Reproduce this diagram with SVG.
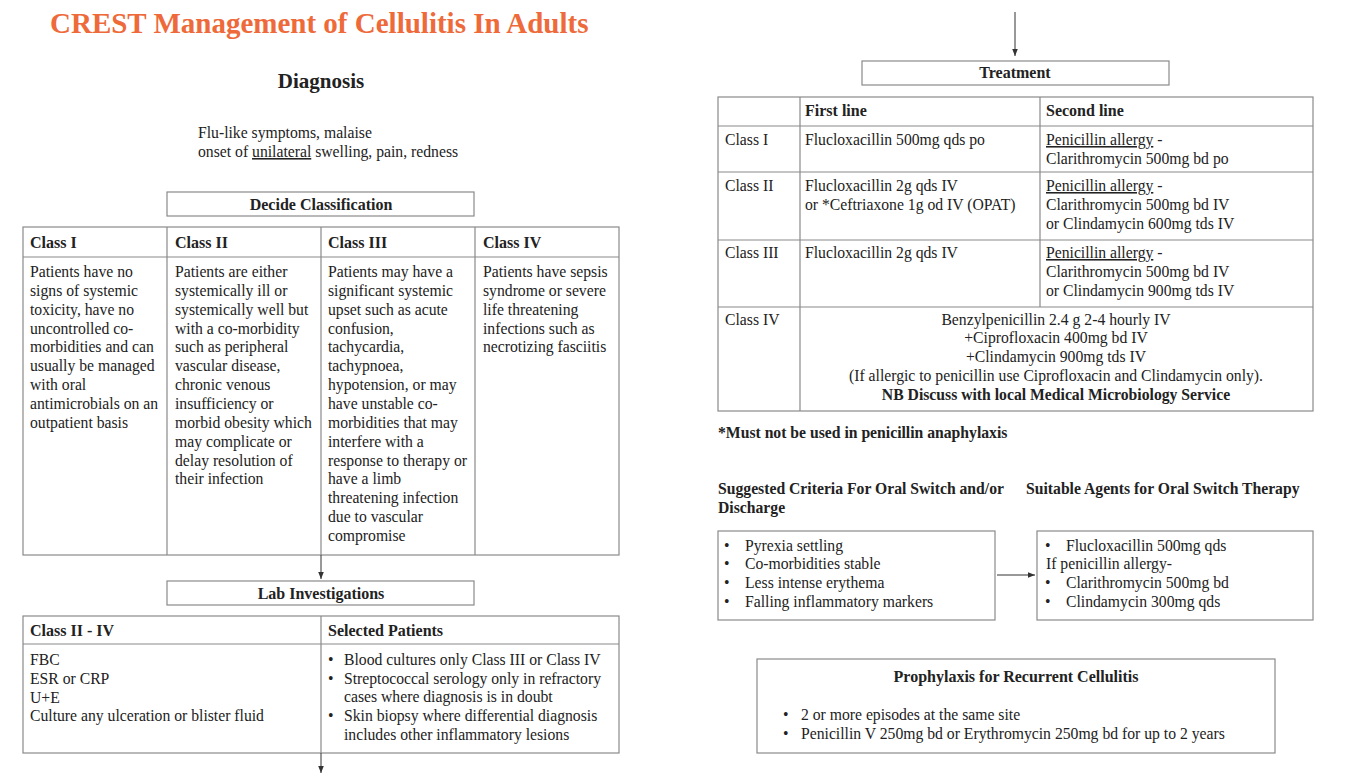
<svg xmlns="http://www.w3.org/2000/svg" width="1354" height="774" viewBox="0 0 1354 774">
<style>
text{font-family:"Liberation Serif","Times New Roman",serif;fill:#222;font-size:15.7px}
.b{font-weight:bold}
.h{font-weight:bold;font-size:16px}
.c{text-anchor:middle}
.u{text-decoration:underline}
.box{fill:#fff;stroke:#8a8a8a;stroke-width:1.2}
.ln{stroke:#8a8a8a;stroke-width:1.2;fill:none}
.con{stroke:#333;stroke-width:1;fill:none}
</style>
<defs>
<marker id="ah" viewBox="0 0 10 10" refX="10" refY="5" markerWidth="7" markerHeight="7" orient="auto" markerUnits="userSpaceOnUse">
<path d="M0,1 L10,5 L0,9 z" fill="#333"/>
</marker>
</defs>
<rect width="1354" height="774" fill="#fff"/>

<g id="title">
<text x="50" y="33" class="b" style="font-size:29px;fill:#ee6a3a">CREST Management of Cellulitis In Adults</text>
</g>

<g id="diagnosis">
<text x="321" y="88" class="b c" style="font-size:21px">Diagnosis</text>
<text x="198" y="138">Flu-like symptoms, malaise</text>
<text x="198" y="157">onset of <tspan class="u">unilateral</tspan> swelling, pain, redness</text>
</g>

<g id="decide">
<rect class="box" x="167" y="192" width="307" height="24"/>
<text x="321" y="210" class="h c">Decide Classification</text>
</g>

<g id="class-table">
<rect class="box" x="23" y="227" width="596" height="328"/>
<path class="ln" d="M23,257 H619 M167,227 V555 M321,227 V555 M475,227 V555"/>
<text x="30" y="248" class="h">Class I</text>
<text x="175" y="248" class="h">Class II</text>
<text x="328" y="248" class="h">Class III</text>
<text x="483" y="248" class="h">Class IV</text>
<text x="30" y="277">
<tspan x="30" y="277">Patients have no</tspan>
<tspan x="30" y="295.85">signs of systemic</tspan>
<tspan x="30" y="314.7">toxicity, have no</tspan>
<tspan x="30" y="333.55">uncontrolled co-</tspan>
<tspan x="30" y="352.4">morbidities and can</tspan>
<tspan x="30" y="371.25">usually be managed</tspan>
<tspan x="30" y="390.1">with oral</tspan>
<tspan x="30" y="408.95">antimicrobials on an</tspan>
<tspan x="30" y="427.8">outpatient basis</tspan>
</text>
<text x="175" y="277">
<tspan x="175" y="277">Patients are either</tspan>
<tspan x="175" y="295.85">systemically ill or</tspan>
<tspan x="175" y="314.7">systemically well but</tspan>
<tspan x="175" y="333.55">with a co-morbidity</tspan>
<tspan x="175" y="352.4">such as peripheral</tspan>
<tspan x="175" y="371.25">vascular disease,</tspan>
<tspan x="175" y="390.1">chronic venous</tspan>
<tspan x="175" y="408.95">insufficiency or</tspan>
<tspan x="175" y="427.8">morbid obesity which</tspan>
<tspan x="175" y="446.65">may complicate or</tspan>
<tspan x="175" y="465.5">delay resolution of</tspan>
<tspan x="175" y="484.35">their infection</tspan>
</text>
<text x="328" y="277">
<tspan x="328" y="277">Patients may have a</tspan>
<tspan x="328" y="295.85">significant systemic</tspan>
<tspan x="328" y="314.7">upset such as acute</tspan>
<tspan x="328" y="333.55">confusion,</tspan>
<tspan x="328" y="352.4">tachycardia,</tspan>
<tspan x="328" y="371.25">tachypnoea,</tspan>
<tspan x="328" y="390.1">hypotension, or may</tspan>
<tspan x="328" y="408.95">have unstable co-</tspan>
<tspan x="328" y="427.8">morbidities that may</tspan>
<tspan x="328" y="446.65">interfere with a</tspan>
<tspan x="328" y="465.5">response to therapy or</tspan>
<tspan x="328" y="484.35">have a limb</tspan>
<tspan x="328" y="503.2">threatening infection</tspan>
<tspan x="328" y="522.05">due to vascular</tspan>
<tspan x="328" y="540.9">compromise</tspan>
</text>
<text x="483" y="277">
<tspan x="483" y="277">Patients have sepsis</tspan>
<tspan x="483" y="295.85">syndrome or severe</tspan>
<tspan x="483" y="314.7">life threatening</tspan>
<tspan x="483" y="333.55">infections such as</tspan>
<tspan x="483" y="352.4">necrotizing fasciitis</tspan>
</text>
</g>

<g id="lab">
<rect class="box" x="167" y="581" width="307" height="24"/>
<text x="321" y="599" class="h c">Lab Investigations</text>
</g>

<g id="lab-table">
<rect class="box" x="23" y="616" width="596" height="137"/>
<path class="ln" d="M23,644 H619 M321,616 V753"/>
<text x="30" y="636" class="h">Class II - IV</text>
<text x="328" y="636" class="h">Selected Patients</text>
<text x="30" y="665">FBC</text>
<text x="30" y="684">ESR or CRP</text>
<text x="30" y="703">U+E</text>
<text x="30" y="721">Culture any ulceration or blister fluid</text>
<text x="328" y="665">•</text>
<text x="344" y="665">Blood cultures only Class III or Class IV</text>
<text x="328" y="684">•</text>
<text x="344" y="684">Streptococcal serology only in refractory</text>
<text x="344" y="702">cases where diagnosis is in doubt</text>
<text x="328" y="721">•</text>
<text x="344" y="721">Skin biopsy where differential diagnosis</text>
<text x="344" y="740">includes other inflammatory lesions</text>
</g>

<g id="treatment">
<rect class="box" x="862" y="61" width="307" height="24"/>
<text x="1015" y="78" class="h c">Treatment</text>
</g>

<g id="treatment-table">
<rect class="box" x="718" y="97" width="595" height="314"/>
<path class="ln" d="M718,126 H1313 M718,172 H1313 M718,240 H1313 M718,307 H1313 M800,97 V411 M1040,97 V307"/>
<text x="805" y="116" class="h">First line</text>
<text x="1046" y="116" class="h">Second line</text>
<text x="725" y="145">Class I</text>
<text x="805" y="145">Flucloxacillin 500mg qds po</text>
<text x="1046" y="145"><tspan class="u">Penicillin allergy</tspan> -</text>
<text x="1046" y="164">Clarithromycin 500mg bd po</text>
<text x="725" y="191">Class II</text>
<text x="805" y="191">Flucloxacillin 2g qds IV</text>
<text x="805" y="210">or *Ceftriaxone 1g od IV (OPAT)</text>
<text x="1046" y="191"><tspan class="u">Penicillin allergy</tspan> -</text>
<text x="1046" y="210">Clarithromycin 500mg bd IV</text>
<text x="1046" y="229">or Clindamycin 600mg tds IV</text>
<text x="725" y="258">Class III</text>
<text x="805" y="258">Flucloxacillin 2g qds IV</text>
<text x="1046" y="258"><tspan class="u">Penicillin allergy</tspan> -</text>
<text x="1046" y="277">Clarithromycin 500mg bd IV</text>
<text x="1046" y="296">or Clindamycin 900mg tds IV</text>
<text x="725" y="325">Class IV</text>
<text x="1056" y="325" class="c">Benzylpenicillin 2.4 g 2-4 hourly IV</text>
<text x="1056" y="343" class="c">+Ciprofloxacin 400mg bd IV</text>
<text x="1056" y="362" class="c">+Clindamycin 900mg tds IV</text>
<text x="1056" y="381" class="c">(If allergic to penicillin use Ciprofloxacin and Clindamycin only).</text>
<text x="1056" y="400" class="b c">NB Discuss with local Medical Microbiology Service</text>
</g>

<g id="footnote">
<text x="718" y="438" class="b">*Must not be used in penicillin anaphylaxis</text>
</g>

<g id="criteria">
<text x="718" y="494" class="b">Suggested Criteria For Oral Switch and/or</text>
<text x="718" y="513" class="b">Discharge</text>
<rect class="box" x="718" y="531" width="277" height="89"/>
<text x="724" y="551">•</text><text x="745" y="551">Pyrexia settling</text>
<text x="724" y="569">•</text><text x="745" y="569">Co-morbidities stable</text>
<text x="724" y="588">•</text><text x="745" y="588">Less intense erythema</text>
<text x="724" y="607">•</text><text x="745" y="607">Falling inflammatory markers</text>
</g>

<g id="agents">
<text x="1026" y="494" class="b">Suitable Agents for Oral Switch Therapy</text>
<rect class="box" x="1037" y="531" width="276" height="89"/>
<text x="1045" y="551">•</text><text x="1066" y="551">Flucloxacillin 500mg qds</text>
<text x="1046" y="569">If penicillin allergy-</text>
<text x="1045" y="588">•</text><text x="1066" y="588">Clarithromycin 500mg bd</text>
<text x="1045" y="607">•</text><text x="1066" y="607">Clindamycin 300mg qds</text>
</g>

<g id="prophylaxis">
<rect class="box" x="757" y="659" width="518" height="94"/>
<text x="1016" y="682" class="h c">Prophylaxis for Recurrent Cellulitis</text>
<text x="783" y="720">•</text><text x="801" y="720">2 or more episodes at the same site</text>
<text x="783" y="739">•</text><text x="801" y="739">Penicillin V 250mg bd or Erythromycin 250mg bd for up to 2 years</text>
</g>

<g id="connectors">
<line class="con" x1="321" y1="555" x2="321" y2="579" marker-end="url(#ah)"/>
<line class="con" x1="321" y1="753" x2="321" y2="773" marker-end="url(#ah)"/>
<line class="con" x1="1015" y1="12" x2="1015" y2="56" marker-end="url(#ah)"/>
<line class="con" x1="997" y1="575" x2="1035" y2="575" marker-end="url(#ah)"/>
</g>
</svg>
